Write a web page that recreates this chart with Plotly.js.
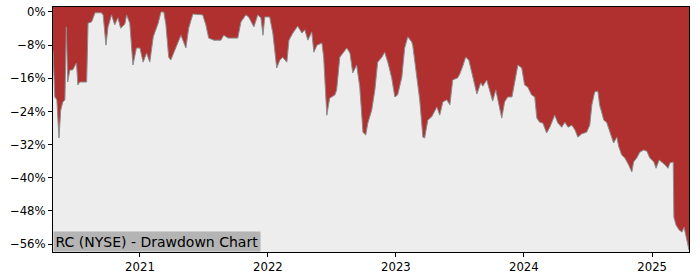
<!DOCTYPE html>
<html>
<head>
<meta charset="utf-8">
<script src="https://cdn.plot.ly/plotly-3.0.1.min.js"></script>
<style>html,body{margin:0;padding:0;background:#fff;}#chart{width:700px;height:280px;}</style>
</head>
<body>
<div id="chart"></div>
<script>
const dates = [
"2020-04-28","2020-05-03","2020-05-09","2020-05-15","2020-05-20","2020-05-26","2020-06-01","2020-06-05","2020-06-09","2020-06-15",
"2020-06-23","2020-07-04","2020-07-08","2020-07-13","2020-08-02","2020-08-06","2020-08-16","2020-08-26","2020-09-13","2020-09-18",
"2020-09-26","2020-10-02","2020-10-12","2020-10-21","2020-10-30","2020-11-07","2020-11-19","2020-11-24","2020-12-03","2020-12-12",
"2020-12-22","2021-01-01","2021-01-10","2021-01-20","2021-01-29","2021-02-08","2021-02-22","2021-03-02","2021-03-10","2021-03-16",
"2021-03-24","2021-03-30","2021-04-08","2021-04-19","2021-04-28","2021-05-12","2021-05-20","2021-06-01","2021-06-29","2021-07-08",
"2021-07-16","2021-07-31","2021-08-20","2021-08-28","2021-09-09","2021-09-23","2021-10-07","2021-10-16","2021-10-30","2021-11-07",
"2021-11-22","2021-12-03","2021-12-12","2021-12-18","2021-12-23","2022-01-06","2022-01-15","2022-01-26","2022-02-04","2022-02-12",
"2022-02-24","2022-03-02","2022-03-13","2022-03-27","2022-04-08","2022-04-16","2022-04-25","2022-05-06","2022-05-12","2022-05-21",
"2022-06-04","2022-06-09","2022-06-18","2022-06-26","2022-07-11","2022-07-16","2022-07-25","2022-08-03","2022-08-14","2022-08-23",
"2022-08-31","2022-09-11","2022-09-20","2022-09-29","2022-10-07","2022-10-13","2022-10-24","2022-11-02","2022-11-10","2022-11-22",
"2022-11-30","2022-12-09","2022-12-20","2022-12-29","2023-01-06","2023-01-18","2023-01-26","2023-02-04","2023-02-15","2023-02-18",
"2023-03-02","2023-03-10","2023-03-19","2023-03-24","2023-04-02","2023-04-13","2023-04-28","2023-05-06","2023-05-15","2023-05-26",
"2023-06-04","2023-06-12","2023-06-26","2023-07-02","2023-07-11","2023-07-19","2023-07-28","2023-08-08","2023-08-20","2023-08-31",
"2023-09-06","2023-09-17","2023-09-26","2023-10-04","2023-10-13","2023-10-21","2023-10-30","2023-11-07","2023-11-16","2023-11-28",
"2023-12-03","2023-12-15","2023-12-26","2024-01-03","2024-01-12","2024-01-23","2024-02-01","2024-02-07","2024-02-15","2024-02-24",
"2024-03-06","2024-03-15","2024-03-29","2024-04-07","2024-04-18","2024-04-27","2024-05-06","2024-05-17","2024-05-26","2024-06-03",
"2024-06-14","2024-06-28","2024-07-07","2024-07-13","2024-07-21","2024-07-30","2024-08-04","2024-08-16","2024-08-24","2024-09-02",
"2024-09-13","2024-09-22","2024-09-28","2024-10-06","2024-10-15","2024-10-26","2024-11-04","2024-11-09","2024-11-18","2024-11-27",
"2024-12-08","2024-12-17","2024-12-25","2025-01-06","2025-01-12","2025-01-21","2025-01-29","2025-02-07","2025-02-15","2025-02-21",
"2025-03-02","2025-03-04","2025-03-10","2025-03-19","2025-03-27","2025-04-02","2025-04-08","2025-04-13","2025-04-16"
];
const drawdown = [
-9.2,-20.5,-21.2,-30.4,-23.7,-21.7,-21.2,-3.6,-16.9,-14.0,
-14.0,-12.3,-17.6,-16.9,-16.9,-2.7,-2.4,-0.2,-0.2,-0.7,
-8.0,-3.6,-0.7,-3.1,-1.4,-3.9,-2.9,-0.7,-2.7,-12.8,
-8.7,-8.7,-12.1,-9.9,-12.1,-6.0,-2.7,0,0,-3.1,
-10.9,-11.6,-9.7,-7.2,-5.6,-8.7,-3.9,-0.5,-0.7,-3.1,
-6.3,-6.8,-6.8,-5.6,-6.3,-6.3,-6.3,-2.4,-0.7,-1.2,
-3.6,-0.7,-1.4,-5.6,-1.2,-1.2,-5.1,-13.5,-11.6,-10.9,
-12.1,-6.8,-5.1,-3.4,-5.1,-4.3,-6.8,-4.8,-9.7,-8.0,
-7.5,-10.9,-24.9,-20.8,-20.0,-18.8,-10.9,-9.9,-8.7,-9.9,
-14.7,-12.8,-18.1,-29.0,-29.7,-26.8,-23.7,-18.8,-12.1,-10.9,
-9.7,-12.1,-15.9,-20.5,-20.0,-15.7,-8.7,-6.0,-7.2,-8.0,
-15.2,-21.2,-30.2,-30.4,-26.1,-25.3,-22.9,-24.9,-21.7,-21.2,
-22.4,-16.4,-15.9,-15.0,-13.0,-10.9,-11.6,-15.7,-19.8,-17.1,
-17.9,-16.4,-19.3,-21.5,-18.8,-22.4,-25.6,-21.7,-20.5,-20.5,
-18.1,-12.8,-13.5,-17.6,-18.1,-20.0,-20.5,-25.6,-26.6,-26.8,
-29.2,-27.8,-24.9,-26.8,-27.8,-26.6,-27.8,-27.3,-28.5,-30.2,
-29.4,-29.0,-27.3,-22.4,-19.3,-19.1,-22.4,-26.1,-26.6,-29.0,
-31.6,-30.2,-32.6,-34.5,-35.2,-36.9,-38.6,-36.2,-35.2,-33.8,
-33.3,-33.6,-35.2,-36.2,-37.7,-35.7,-36.2,-36.9,-37.7,-36.4,
-36.2,-49.5,-51.4,-52.6,-53.1,-51.9,-54.3,-56.2,-57.4
];
const yTickVals = [0,-8,-16,-24,-32,-40,-48,-56];
const yTickText = ["0%","\u22128%","\u221216%","\u221224%","\u221232%","\u221240%","\u221248%","\u221256%"];
const xTickVals = ["2021-01-01","2022-01-01","2023-01-01","2024-01-01","2025-01-01"];
const xTickText = ["2021","2022","2023","2024","2025"];
const chartLabel = "RC (NYSE) - Drawdown Chart";

const red = "#B03030";
const fontFam = "DejaVu Sans, sans-serif";

const trace = {
  x: dates, y: drawdown, type: "scatter", mode: "lines",
  fill: "tozeroy", fillcolor: red,
  line: {color: "#8c8c8c", width: 1},
  hoverinfo: "skip"
};

const layout = {
  width: 700, height: 280,
  margin: {l: 53, r: 11, t: 7, b: 28, pad: 0},
  paper_bgcolor: "#ffffff",
  plot_bgcolor: "#EDEDED",
  showlegend: false,
  font: {family: fontFam, size: 11.7, color: "#000"},
  xaxis: {
    type: "date", range: [dates[0], dates[dates.length - 1]],
    tickvals: xTickVals, ticktext: xTickText,
    ticks: "outside", ticklen: 4, tickwidth: 1, tickcolor: "#000",
    showline: true, linecolor: "#000", linewidth: 1, mirror: true,
    showgrid: false, zeroline: false,
    tickfont: {family: fontFam, size: 11.7, color: "#000"}
  },
  yaxis: {
    range: [-57.9, 1.2],
    tickvals: yTickVals, ticktext: yTickText,
    ticks: "outside", ticklen: 4, tickwidth: 1, tickcolor: "#000",
    showline: true, linecolor: "#000", linewidth: 1, mirror: true,
    showgrid: false, zeroline: false,
    tickfont: {family: fontFam, size: 11.7, color: "#000"}
  },
  shapes: [{
    type: "rect", xref: "paper", yref: "y", x0: 0, x1: 1, y0: 0, y1: 1.2,
    fillcolor: red, line: {width: 0}, layer: "below"
  }],
  annotations: [{
    xref: "paper", yref: "paper", x: 0, y: 0, xanchor: "left", yanchor: "bottom",
    text: chartLabel, showarrow: false,
    font: {family: fontFam, size: 14, color: "#000"},
    bgcolor: "#B4B4B4", borderpad: 1.5
  }]
};

Plotly.newPlot("chart", [trace], layout, {displayModeBar: false, staticPlot: true});
</script>
</body>
</html>
